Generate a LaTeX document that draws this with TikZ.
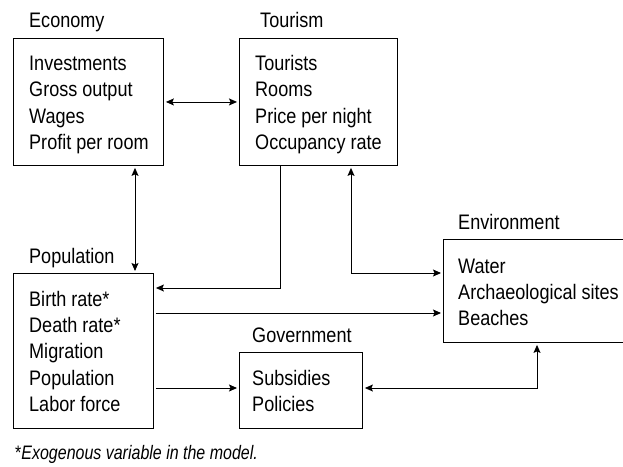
\documentclass[tikz,border=0pt]{standalone}
\usepackage{fontspec}
\setmainfont{Liberation Sans}[FakeStretch=0.86]
\newfontfamily\fnfont{Liberation Sans}[FakeStretch=0.82]
\usetikzlibrary{arrows.meta}
\begin{document}
\begin{tikzpicture}[x=1pt,y=-1pt,
  box/.style={draw, line width=0.9pt, rectangle, inner sep=0pt, anchor=north west},
  txt/.style={anchor=base west, inner sep=0pt, font=\fontsize{21}{24}\selectfont},
  tip/.tip={Stealth[length=8pt,width=7pt,inset=1.5pt]},
  conn/.style={line width=0.9pt, -tip, shorten >=2pt, shorten <=2pt},
  dconn/.style={conn, tip-tip}
]
\useasboundingbox (0,0) rectangle (623,466);
\clip (0,0) rectangle (623,466);
% boxes
\node[box, minimum width=150pt, minimum height=127pt] (eco) at (13,38) {};
\node[box, minimum width=158pt, minimum height=127pt] (tour) at (239,38) {};
\node[box, minimum width=140pt, minimum height=155pt] (pop) at (13,273) {};
\node[box, minimum width=123pt, minimum height=76pt] (gov) at (239,352) {};
\node[box, minimum width=200pt, minimum height=103pt] (env) at (443,239) {};
% titles
\node[txt] (ecoT) at (29,27.3) {Economy};
\node[txt] (tourT) at (260,27.3) {Tourism};
\node[txt] (popT) at (29,263.3) {Population};
\node[txt] (govT) at (252,342.3) {Government};
\node[txt] (envT) at (458,229.3) {Environment};
% economy
\node[txt] (e1) at (29,70.5) {Investments};
\node[txt] (e2) at (29,96.8) {Gross output};
\node[txt] (e3) at (29,123.1) {Wages};
\node[txt] (e4) at (29,149.4) {Profit per room};
% tourism
\node[txt] (r1) at (255,70.5) {Tourists};
\node[txt] (r2) at (255,96.8) {Rooms};
\node[txt] (r3) at (255,123.1) {Price per night};
\node[txt] (r4) at (255,149.4) {Occupancy rate};
% population
\node[txt] (p1) at (29,306.3) {Birth rate*};
\node[txt] (p2) at (29,332.6) {Death rate*};
\node[txt] (p3) at (29,358.9) {Migration};
\node[txt] (p4) at (29,385.2) {Population};
\node[txt] (p5) at (29,411.5) {Labor force};
% government
\node[txt] (g1) at (252,385.3) {Subsidies};
\node[txt] (g2) at (252,411.6) {Policies};
% environment
\node[txt] (v1) at (458,273.3) {Water};
\node[txt] (v2) at (458,299.6) {Archaeological sites};
\node[txt] (v3) at (458,325.9) {Beaches};
% footnote
\node[txt, font=\fnfont\fontsize{19.5}{22}\selectfont] (fn) at (15,459.5) {*\textit{Exogenous variable in the model.}};
% helper coordinates
\coordinate (c135) at (135,0);
\coordinate (tp) at (280,288);
\coordinate (te) at (351,273);
\coordinate (pe) at (0,313);
\coordinate (pg) at (0,388);
\coordinate (ge) at (537,388);
% connectors
\draw[dconn] (eco.east) -- (tour.west);
\draw[dconn] (eco.south -| c135) -- (pop.north -| c135);
\draw[conn, shorten <=0pt] (tour.south -| tp) |- (pop.east |- tp);
\draw[dconn] (tour.south -| te) |- (env.west |- te);
\draw[conn] (pop.east |- pe) -- (env.west |- pe);
\draw[conn] (pop.east |- pg) -- (gov.west |- pg);
\draw[dconn] (gov.east |- ge) -| (env.south -| ge);
\end{tikzpicture}
\end{document}
